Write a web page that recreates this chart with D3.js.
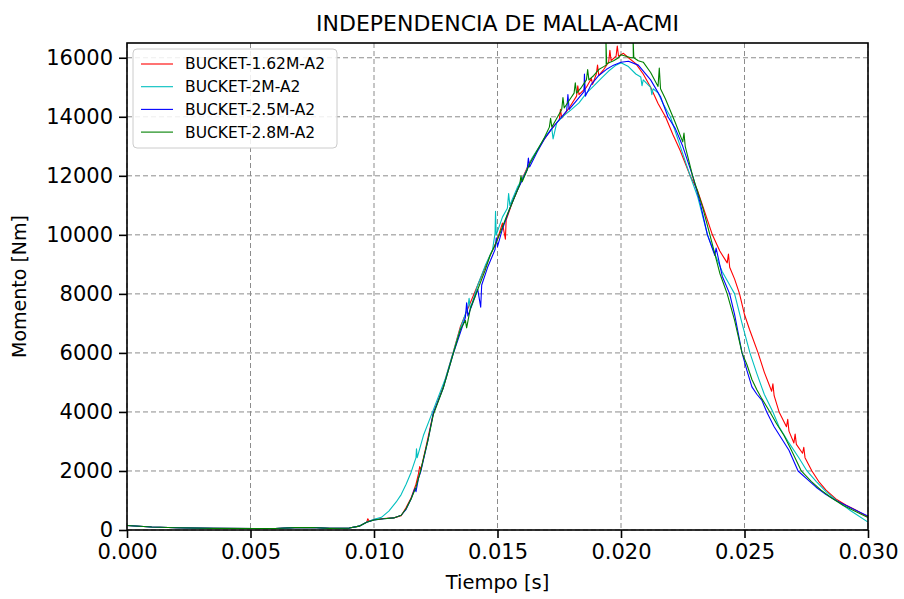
<!DOCTYPE html>
<html>
<head>
<meta charset="utf-8">
<script src="https://cdn.jsdelivr.net/npm/d3@7"></script>
<style>
  body { margin: 0; background: #fff; }
  svg { font-family: "DejaVu Sans", sans-serif; }
</style>
</head>
<body>
<svg id="svg" width="904" height="599"></svg>
<script>
// series names / colours
var nombres = ['BUCKET-1.62M-A2', 'BUCKET-2M-A2', 'BUCKET-2.5M-A2', 'BUCKET-2.8M-A2'];
var colores = ['#ff0000', '#00bfbf', '#0000ff', '#008000'];

var xTicks = [0, 0.005, 0.010, 0.015, 0.020, 0.025, 0.030];
var yTicks = [0, 2000, 4000, 6000, 8000, 10000, 12000, 14000, 16000];

// flat start (shared by most meshes)
var inicio = [[0.0000,150],[0.0010,100],[0.0020,75],[0.0035,55],[0.0060,50],[0.0068,80],[0.0075,85],
    [0.0082,55],[0.0090,65],[0.0094,130],[0.0097,260],[0.0100,340],[0.0104,380],[0.0108,410],[0.0111,500]];

var m162 = [[0.00975,380],[0.0098,300],[0.0100,350],[0.0104,390],[0.0108,410],[0.0111,480],[0.0113,760],
    [0.0115,1080],[0.0117,1550],[0.0118,1900],[0.01185,2150],[0.0119,2050],[0.0121,2800],[0.0124,3950],
    [0.0128,4850],[0.0132,6000],[0.0135,6900],[0.0138,7500],[0.0141,8100],[0.0144,8700],[0.0147,9300],
    [0.0150,9850],[0.0152,10400],[0.01532,9850],[0.01535,10500],[0.0156,11100],[0.0160,11900],[0.0163,12450],
    [0.0166,12850],[0.0169,13250],[0.0172,13600],[0.0175,13900],[0.01755,14250],[0.0176,13950],[0.0179,14300],
    [0.0182,14700],[0.01825,15050],[0.0183,14750],[0.0186,15000],[0.0188,15300],[0.01885,15100],[0.0190,15450],
    [0.01905,15750],[0.0191,15400],[0.0193,15600],[0.0195,15850],[0.01955,16250],[0.0196,15900],[0.0198,16050],
    [0.01985,16400],[0.0199,16050],[0.0201,16150],[0.0203,16000],[0.0206,15800],[0.0209,15450],[0.0212,15000],
    [0.0215,14450],[0.0218,14000],[0.0221,13400],[0.0224,12850],[0.0228,12000],[0.0231,11500],[0.0234,10750],
    [0.0237,10000],[0.0240,9450],[0.0243,9050],[0.02435,9350],[0.0244,8900],[0.0246,8500],[0.0248,8000],
    [0.0250,7300],[0.0252,6800],[0.02555,6000],[0.0258,5350],[0.0261,4700],[0.02615,4950],[0.0262,4550],
    [0.0264,4000],[0.0267,3500],[0.02675,3750],[0.0268,3350],[0.0270,2950],[0.02705,3250],[0.0271,2900],
    [0.02735,2600],[0.0274,2800],[0.02745,2450],[0.02773,2000],[0.0280,1650],[0.0283,1350],[0.0287,1050],
    [0.0291,850],[0.0295,680],[0.0300,440]];

var m2 = [[0.0100,360],[0.0103,430],[0.0106,640],[0.0109,950],[0.0111,1200],[0.0113,1550],[0.0115,1950],
    [0.0117,2450],[0.01172,2750],[0.01175,2450],[0.0120,3200],[0.0123,3850],[0.0126,4500],[0.0129,5150],
    [0.0132,6000],[0.0135,6850],[0.0138,7550],[0.01385,7850],[0.0139,7500],[0.0142,8300],[0.0145,8950],
    [0.0148,9500],[0.0149,10050],[0.01492,10800],[0.01495,10000],[0.0152,10600],[0.0154,10900],[0.01545,11400],
    [0.0155,11000],[0.0158,11600],[0.0161,12050],[0.0164,12600],[0.0167,13000],[0.0170,13400],[0.0172,13600],
    [0.01725,13250],[0.0174,13800],[0.0177,14050],[0.0180,14250],[0.0183,14470],[0.0186,14800],[0.0189,15050],
    [0.0192,15300],[0.0195,15550],[0.0198,15750],[0.0200,15830],[0.0203,15700],[0.0206,15450],[0.0208,15350],
    [0.02085,15050],[0.0209,15250],[0.0212,15000],[0.02125,14750],[0.0213,14950],[0.0215,14810],[0.0217,14450],
    [0.0220,14000],[0.0224,13000],[0.0228,12000],[0.0231,11300],[0.0235,10000],[0.0238,9350],[0.0241,8750],
    [0.0244,8300],[0.0246,8000],[0.0249,7000],[0.02522,6000],[0.0255,5300],[0.0258,4600],[0.02615,4000],
    [0.0264,3500],[0.0268,2950],[0.0272,2450],[0.02753,2000],[0.0279,1650],[0.0283,1300],[0.0287,1020],
    [0.0293,650],[0.0300,270]];

var m25 = [[0.0113,700],[0.0115,1050],[0.01165,1400],[0.0117,1300],[0.0118,1750],[0.0119,2000],[0.0122,3100],
    [0.0124,3950],[0.0128,4800],[0.0132,5950],[0.0135,6700],[0.0137,7200],[0.01375,7700],[0.0138,7250],
    [0.0140,7700],[0.0142,8150],[0.01432,7550],[0.01436,8300],[0.0146,8900],[0.0148,9300],[0.0149,9500],
    [0.01495,9900],[0.0150,9600],[0.0152,10200],[0.0155,10900],[0.0158,11500],[0.0162,12200],[0.01625,12600],
    [0.0163,12300],[0.0166,12800],[0.0169,13250],[0.0172,13600],[0.0175,13900],[0.0178,14200],[0.01785,14750],
    [0.0179,14250],[0.0182,14550],[0.0185,14850],[0.01852,15450],[0.01856,14700],[0.0188,15100],[0.0191,15400],
    [0.0194,15600],[0.0197,15750],[0.0200,15850],[0.0203,15880],[0.0207,15750],[0.0212,15250],[0.0216,14680],
    [0.0219,14000],[0.0222,13600],[0.0225,13000],[0.0229,12000],[0.0232,11100],[0.0235,10000],[0.0238,9300],
    [0.02385,9550],[0.0241,8600],[0.0244,8000],[0.0246,7300],[0.0249,6000],[0.0251,5400],[0.0253,4850],
    [0.0255,4600],[0.0257,4400],[0.0259,4000],[0.0262,3500],[0.0265,3100],[0.0268,2700],[0.02717,2000],
    [0.0275,1750],[0.0279,1450],[0.0283,1200],[0.0287,1000],[0.0293,750],[0.0300,470]];

var m28 = [[0.0113,720],[0.0115,1050],[0.0117,1450],[0.0119,2050],[0.0122,3100],[0.0124,3900],[0.0128,4800],
    [0.0132,5950],[0.0135,6800],[0.0137,7100],[0.01375,6850],[0.0139,7500],[0.0142,8150],[0.0145,8800],
    [0.0147,9300],[0.0149,9650],[0.0151,10050],[0.0154,10700],[0.0157,11300],[0.0159,11700],[0.01595,12000],
    [0.0160,11800],[0.0163,12400],[0.0166,12850],[0.0169,13300],[0.0171,13650],[0.01715,13950],[0.0172,13650],
    [0.0174,13950],[0.0176,14250],[0.01765,14650],[0.0177,14300],[0.0179,14550],[0.0181,14800],[0.01815,15150],
    [0.0182,14800],[0.0184,15000],[0.0186,15250],[0.01865,15600],[0.0187,15250],[0.0189,15400],[0.0191,15600],
    [0.0193,15700],[0.0194,15750],[0.01939,16600],[0.01942,15800],[0.0197,15900],[0.0199,16000],[0.0200,16100],
    [0.0202,16050],[0.0204,16000],[0.0205,16000],[0.02049,16600],[0.02052,16000],[0.0207,15900],[0.0209,15850],
    [0.0212,15500],[0.0215,15030],[0.02155,15650],[0.0216,14950],[0.0218,14600],[0.0221,14000],[0.0222,13800],
    [0.0225,13150],[0.02255,13450],[0.0226,13000],[0.0229,12000],[0.0233,10950],[0.0236,10000],[0.0240,8700],
    [0.0243,8000],[0.0246,7100],[0.0249,6000],[0.0251,5600],[0.0253,5100],[0.0255,4750],[0.0257,4450],
    [0.02603,4000],[0.0263,3600],[0.0266,3200],[0.0269,2700],[0.0273,2000],[0.0277,1650],[0.0281,1350],
    [0.0285,1100],[0.0290,830],[0.0295,630],[0.0300,420]];

var series = [
    inicio.slice(0, 11).concat(m162),
    inicio.slice(0, 11).concat(m2),
    inicio.concat(m25),
    inicio.concat(m28)
];

var marginLeft = 127;
var marginTop = 43;
var width = 868 - marginLeft;
var height = 530 - marginTop;

var svg = d3.select('svg')
    .append('g')
    .attr('transform', 'translate(' + marginLeft + ',' + marginTop + ')');

var x = d3.scaleLinear().domain([0, 0.030]).range([0, width]);
var y = d3.scaleLinear().domain([0, 16500]).range([height, 0]);

svg.append('defs').append('clipPath').attr('id', 'clip')
    .append('rect').attr('width', width).attr('height', height);

// grid
svg.append('g').selectAll('line')
    .data(xTicks)
    .enter()
    .append('line')
    .attr('x1', function(d){ return x(d); })
    .attr('x2', function(d){ return x(d); })
    .attr('y1', 0).attr('y2', height)
    .attr('stroke', '#8c8c8c').attr('stroke-width', 1).attr('stroke-dasharray', '5,3');

svg.append('g').selectAll('line')
    .data(yTicks)
    .enter()
    .append('line')
    .attr('y1', function(d){ return y(d); })
    .attr('y2', function(d){ return y(d); })
    .attr('x1', 0).attr('x2', width)
    .attr('stroke', '#8c8c8c').attr('stroke-width', 1).attr('stroke-dasharray', '5,3');

var line = d3.line()
    .x(function(d){ return x(d[0]); })
    .y(function(d){ return y(d[1]); });

svg.append('g').attr('clip-path', 'url(#clip)')
    .selectAll('path')
    .data(series)
    .enter()
    .append('path')
    .attr('d', line)
    .attr('fill', 'none')
    .attr('stroke', function(d, i){ return colores[i]; })
    .attr('stroke-width', 1.1)
    .attr('stroke-linejoin', 'round');

// axes
var xAxis = svg.append('g')
    .attr('transform', 'translate(0,' + height + ')')
    .call(d3.axisBottom(x).tickValues(xTicks).tickFormat(d3.format('.3f')).tickSize(8).tickPadding(6));

var yAxis = svg.append('g')
    .call(d3.axisLeft(y).tickValues(yTicks).tickFormat(d3.format('d')).tickSize(8).tickPadding(6));

[xAxis, yAxis].forEach(function(a){
    a.select('.domain').remove();
    a.selectAll('line').attr('stroke', '#000').attr('stroke-width', 1.6);
    a.selectAll('text').attr('font-size', 21).attr('fill', '#000').attr('font-family', 'DejaVu Sans');
});

// frame
svg.append('rect')
    .attr('width', width).attr('height', height)
    .attr('fill', 'none').attr('stroke', '#000').attr('stroke-width', 1.6);

// titles
svg.append('text')
    .attr('x', width / 2).attr('y', -12)
    .attr('text-anchor', 'middle').attr('font-size', 22)
    .text('INDEPENDENCIA DE MALLA-ACMI');

svg.append('text')
    .attr('x', width / 2).attr('y', height + 59)
    .attr('text-anchor', 'middle').attr('font-size', 19.5)
    .text('Tiempo [s]');

svg.append('text')
    .attr('transform', 'translate(' + (-101) + ',' + (height / 2) + ') rotate(-90)')
    .attr('text-anchor', 'middle').attr('font-size', 19)
    .text('Momento [Nm]');

// legend
var legend = svg.append('g').attr('transform', 'translate(6,6)');
legend.append('rect')
    .attr('width', 204).attr('height', 99).attr('rx', 4)
    .attr('fill', '#fff').attr('fill-opacity', 0.85)
    .attr('stroke', '#ccc').attr('stroke-width', 1);

var items = legend.selectAll('g.item')
    .data(nombres)
    .enter()
    .append('g')
    .attr('transform', function(d, i){ return 'translate(0,' + (15 + i * 22.7) + ')'; });

items.append('line')
    .attr('x1', 8).attr('x2', 40)
    .attr('stroke', function(d, i){ return colores[i]; })
    .attr('stroke-width', 1.1);

items.append('text')
    .attr('x', 52).attr('dy', '0.35em')
    .attr('font-size', 15.5)
    .text(function(d){ return d; });
</script>
</body>
</html>
